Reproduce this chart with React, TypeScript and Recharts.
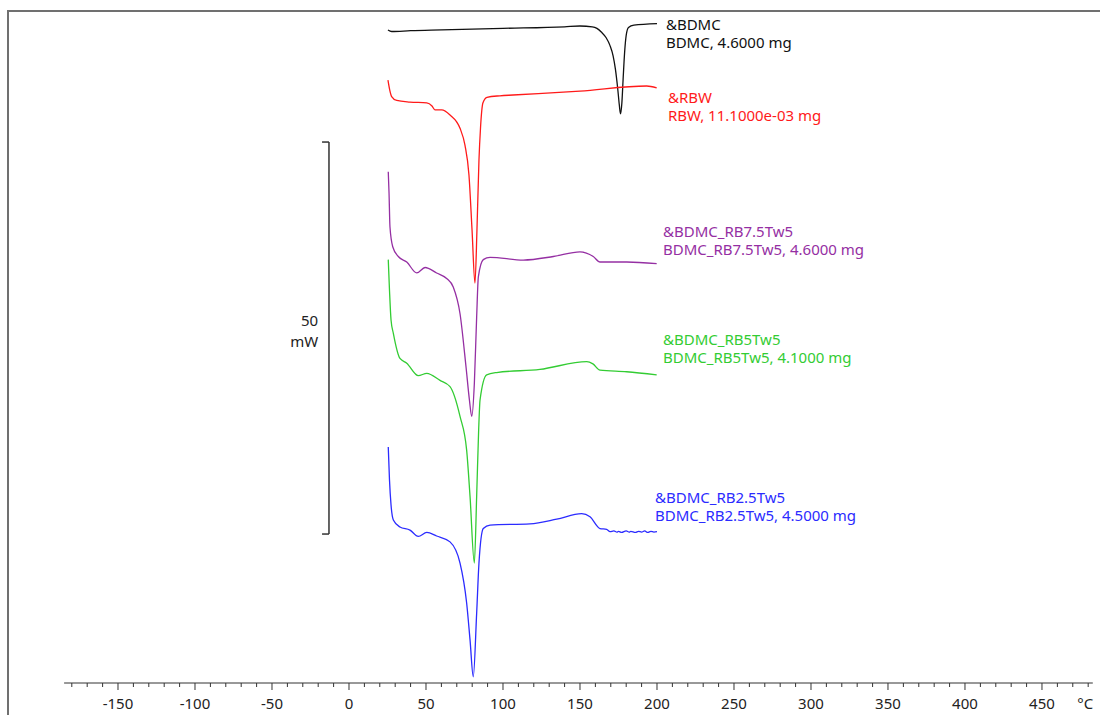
import { LineChart, Line, XAxis, YAxis, ReferenceLine, ReferenceDot } from "recharts"

// DSC curves: temperature (°C) vs heat flow (mW, arbitrary offset per curve)
const bdmc = [
  [25.3, 83.3], [27.7, 83.1], [40, 83.2], [60, 83.3], [100, 83.5], [140, 83.7],
  [150, 83.8], [158, 83.7], [161, 83.5], [164, 83.0], [167, 82.3], [169.5, 81.3],
  [171.5, 80.0], [173, 78.3], [174.5, 75.8], [175.5, 73.8], [176.3, 72.6],
  [177.2, 74.0], [178, 77.0], [179, 80.5], [180, 82.6], [181.5, 83.6], [185, 83.9],
  [200, 84.1],
]

const rbw = [
  [25.3, 76.9], [26.5, 75.6], [27.7, 74.8], [31, 74.3], [39.6, 74.1], [50.5, 74.0],
  [53.9, 73.6], [55.8, 73.1], [60.2, 73.1], [65.6, 72.45], [72.1, 70.75], [75.3, 68.6],
  [77.9, 64.8], [79.9, 57.8], [81.8, 51.0], [83.1, 57.8], [84.4, 66.7], [85.4, 70.8],
  [87, 74.0], [89.6, 74.7], [98, 74.9], [106.5, 75.0], [150, 75.5], [193.3, 76.15],
  [199.8, 75.9],
]

const rb75 = [
  [25.5, 65.2], [26, 62.5], [26.6, 58.2], [28.4, 55.65], [32.0, 54.4], [37.5, 53.7],
  [44.0, 52.3], [49.4, 53.0], [56.9, 52.3], [63.4, 51.6], [67.7, 50.5], [72.1, 47.1],
  [76.0, 40.3], [78.2, 36.1], [79.7, 34.0], [81.4, 38.2], [82.9, 46.7], [84.0, 51.8],
  [87.2, 54.0], [91.6, 54.3], [113.2, 53.95], [132.7, 54.4], [150.0, 55.0],
  [158.6, 54.4], [163.0, 53.7], [180.3, 53.7], [199.8, 53.5],
]

const rb5 = [
  [25.5, 54.0], [26.3, 50.1], [27.3, 46.3], [28.8, 44.6], [33.1, 41.4], [37.5, 40.8],
  [45.0, 39.2], [50.5, 39.5], [59.1, 38.6], [65.6, 37.8], [72.1, 34.0], [76.4, 29.7],
  [78.6, 23.8], [81.4, 15.3], [82.9, 23.8], [84.2, 32.3], [85.1, 36.1], [89.4, 39.3],
  [95.9, 39.6], [124.0, 40.0], [154.4, 41.0], [158.4, 40.7], [163.0, 39.9],
  [180.3, 39.7], [199.8, 39.3],
]

const rb25 = [
  [25.5, 30.1], [26.3, 25.9], [27.3, 22.7], [28.8, 20.8], [33.1, 19.9], [39.6, 19.5],
  [45.0, 18.7], [50.5, 19.2], [56.9, 18.75], [65.6, 18.0], [72.1, 15.3], [76.4, 10.2],
  [78.6, 5.5], [80.7, 0.8], [82.9, 8.9], [84.4, 15.3], [87.2, 19.7], [91.6, 20.15],
  [117.5, 20.3], [134.9, 20.9], [151.1, 21.6], [156.5, 21.2], [163.0, 19.7],
  [167.3, 19.6], [169.5, 19.3], [172, 19.4], [174, 19.25], [175, 19.35], [177, 19.2],
  [180, 19.4], [182, 19.25], [183, 19.35], [186, 19.2], [188, 19.35], [190, 19.25],
  [192, 19.4], [194, 19.2], [196, 19.35], [198, 19.25], [200, 19.3],
]

const seriesNames = ["BDMC", "RBW", "BDMC_RB7.5Tw5", "BDMC_RB5Tw5", "BDMC_RB2.5Tw5"]
const seriesData = [bdmc, rbw, rb75, rb5, rb25]
const seriesColors = ["#111111", "#ff1a1a", "#952fa3", "#33cc33", "#2b2bff"]
const labelLine1 = ["&BDMC", "&RBW", "&BDMC_RB7.5Tw5", "&BDMC_RB5Tw5", "&BDMC_RB2.5Tw5"]
const labelLine2 = [
  "BDMC, 4.6000 mg",
  "RBW, 11.1000e-03 mg",
  "BDMC_RB7.5Tw5, 4.6000 mg",
  "BDMC_RB5Tw5, 4.1000 mg",
  "BDMC_RB2.5Tw5, 4.5000 mg",
]
// anchor of the first label line (°C, mW)
const labelX = [205.8, 207.1, 203.9, 203.9, 198.7]
const labelY = [83.9, 74.6, 57.5, 43.7, 23.6]

const xTicks = Array.from({ length: 67 }, (_, i) => -180 + i * 10)
const xLabels = [-150, -100, -50, 0, 50, 100, 150, 200, 250, 300, 350, 400, 450]

const FONT = "'Noto Sans', sans-serif"

function TempTick({ x, y, payload }: any) {
  const v = payload.value
  const major = v % 50 === 0
  let label = ""
  if (v === 480) label = "°C"
  else if (xLabels.includes(v)) label = String(v)
  return (
    <g>
      <line x1={x} x2={x} y1={y} y2={y + (major ? 7 : 4)} stroke="#333" strokeWidth={1} />
      {label && (
        <text x={v === 480 ? x - 3 : x} y={y + 26} textAnchor="middle" fontSize={15} fontFamily={FONT} fill="#222">
          {label}
        </text>
      )}
    </g>
  )
}

export default function App() {
  return (
    <div style={{ paddingLeft: 7, paddingTop: 10 }}>
      <style>{"html,body{margin:0;overflow:hidden;background:#fff}"}</style>
      <div
        style={{
          borderTop: "2px solid #707070",
          borderLeft: "2px solid #707070",
          width: 1091,
          height: 703,
        }}
      >
        <LineChart width={1091} height={703} margin={{ top: 4.6, right: 7.2, left: 55.1, bottom: 0 }}>
          <XAxis
            dataKey="0"
            type="number"
            domain={[-185, 483]}
            allowDataOverflow
            ticks={xTicks}
            interval={0}
            tick={<TempTick />}
            tickLine={false}
            tickSize={0}
            tickMargin={0}
            height={32}
            stroke="#333"
          />
          <YAxis hide type="number" domain={[0, 85]} allowDataOverflow />

          {/* 50 mW scale bar */}
          <ReferenceLine segment={[{ x: -13, y: 19 }, { x: -13, y: 69 }]} stroke="#333" strokeWidth={1.5} />
          <ReferenceLine segment={[{ x: -17.5, y: 69 }, { x: -13, y: 69 }]} stroke="#333" strokeWidth={1.5} />
          <ReferenceLine segment={[{ x: -17.5, y: 19 }, { x: -13, y: 19 }]} stroke="#333" strokeWidth={1.5} />
          <ReferenceDot
            x={-20}
            y={45.2}
            r={0}
            shape={(p: any) => (
              <g>
                <text x={p.cx} y={p.cy - 3} textAnchor="end" fontSize={15} fontFamily={FONT} fill="#222">50</text>
                <text x={p.cx} y={p.cy + 18} textAnchor="end" fontSize={15} fontFamily={FONT} fill="#222">mW</text>
              </g>
            )}
          />

          {seriesData.map((d, i) => (
            <Line
              key={seriesNames[i]}
              data={d}
              dataKey="1"
              type="monotone"
              stroke={seriesColors[i]}
              strokeWidth={1.3}
              dot={false}
              isAnimationActive={false}
            />
          ))}

          {seriesNames.map((n, i) => (
            <ReferenceDot
              key={"lbl" + n}
              x={labelX[i]}
              y={labelY[i]}
              r={0}
              ifOverflow="visible"
              shape={(p: any) => (
                <g>
                  <text x={p.cx} y={p.cy + 5} fontSize={15} fontFamily={FONT} fill={seriesColors[i]}>
                    {labelLine1[i]}
                  </text>
                  <text x={p.cx} y={p.cy + 23} fontSize={15} fontFamily={FONT} fill={seriesColors[i]}>
                    {labelLine2[i]}
                  </text>
                </g>
              )}
            />
          ))}
        </LineChart>
      </div>
    </div>
  )
}
